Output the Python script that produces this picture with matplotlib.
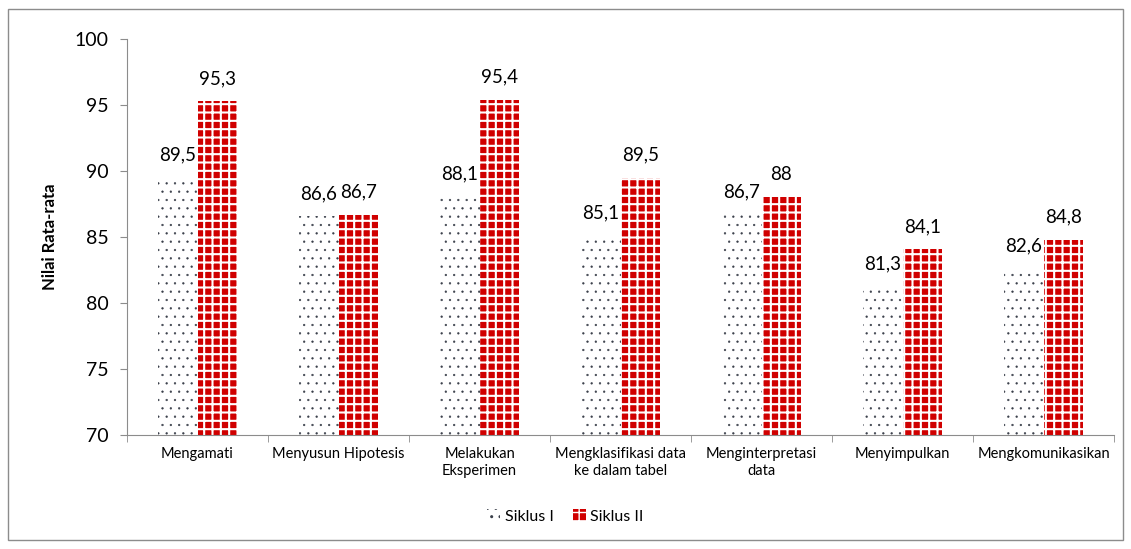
import matplotlib.pyplot as plt
import numpy as np
from matplotlib.patches import Rectangle

categories = ["Mengamati", "Menyusun Hipotesis", "Melakukan\nEksperimen",
              "Mengklasifikasi data\nke dalam tabel", "Menginterpretasi\ndata",
              "Menyimpulkan", "Mengkomunikasikan"]
siklus_1 = [89.5, 86.6, 88.1, 85.1, 86.7, 81.3, 82.6]
siklus_2 = [95.3, 86.7, 95.4, 89.5, 88.0, 84.1, 84.8]
labels_1 = ["89,5", "86,6", "88,1", "85,1", "86,7", "81,3", "82,6"]
labels_2 = ["95,3", "86,7", "95,4", "89,5", "88", "84,1", "84,8"]

plt.rcParams['font.family'] = ['Lato', 'DejaVu Sans']

fig = plt.figure(figsize=(11.31, 5.49), dpi=100)
ax = fig.add_axes([0.1123, 0.2077, 0.8727, 0.7213])

# outer chart border
fig.patches.append(Rectangle((0.007, 0.016), 0.986, 0.968, transform=fig.transFigure,
                             fill=False, edgecolor="#8c8c8c", linewidth=1))

x = np.arange(len(categories))
w = 0.28

# hatch linewidth is picked up when the bars are made
with plt.rc_context({'hatch.linewidth': 0.4}):
    bars_1 = ax.bar(x - w/2, siklus_1, width=w, color="white", edgecolor="#3a3f4a",
                    hatch="..", linewidth=0, label="Siklus I")
with plt.rc_context({'hatch.linewidth': 1.5}):
    bars_2 = ax.bar(x + w/2, siklus_2, width=w, color="#d00000", edgecolor="white",
                    hatch="++", linewidth=0, label="Siklus II")

for b, t in zip(bars_1, labels_1):
    ax.annotate(t, (b.get_x() + b.get_width()/2, b.get_height()), xytext=(0, 10),
                textcoords="offset points", ha="center", va="bottom", fontsize=13.5)
for b, t in zip(bars_2, labels_2):
    ax.annotate(t, (b.get_x() + b.get_width()/2, b.get_height()), xytext=(0, 10),
                textcoords="offset points", ha="center", va="bottom", fontsize=13.5)

ax.set_ylim(70, 100)
ax.set_xlim(-0.5, len(categories) - 0.5)
ax.set_yticks([70, 75, 80, 85, 90, 95, 100])
ax.tick_params(axis="y", labelsize=14, length=5, color="#8c8c8c", pad=8)

ax.set_xticks(x)
ax.set_xticklabels(categories, fontsize=10.5)
ax.tick_params(axis="x", length=0, pad=9)
ax.set_xticks(np.arange(len(categories) + 1) - 0.5, minor=True)
ax.tick_params(axis="x", which="minor", length=5, color="#8c8c8c")

for s in ["top", "right"]:
    ax.spines[s].set_visible(False)
for s in ["left", "bottom"]:
    ax.spines[s].set_color("#8c8c8c")

ax.set_ylabel("Nilai Rata-rata", fontsize=12, fontweight="bold", labelpad=12)

fig.legend(loc="lower center", bbox_to_anchor=(0.5, 0.02), ncol=2, frameon=False,
           fontsize=11.5, handlelength=0.8, handleheight=0.8, handletextpad=0.3,
           columnspacing=1.2)

fig.savefig("out.png", dpi=100)
